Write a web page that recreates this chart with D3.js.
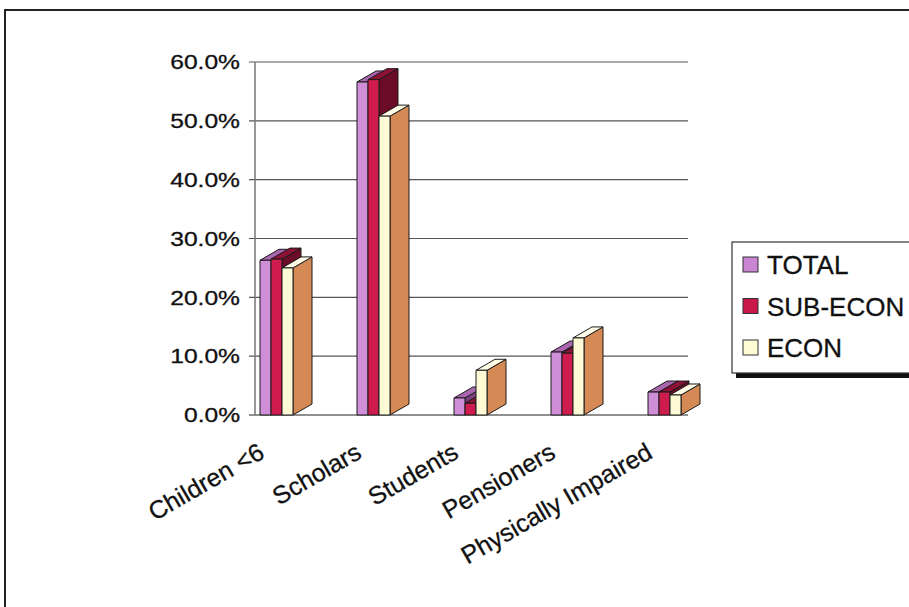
<!DOCTYPE html>
<html>
<head>
<meta charset="utf-8">
<script src="https://cdn.jsdelivr.net/npm/d3@7"></script>
<style>
  html, body { margin: 0; padding: 0; background: #fff; }
  svg { display: block; }
  text { font-family: "Liberation Sans", Arial, sans-serif; fill: #111; }
</style>
</head>
<body>
<svg id="chart" width="909" height="607"></svg>
<script>
// Population groups and their shares (%) by economic status
const categories = ["Children <6", "Scholars", "Students", "Pensioners", "Physically Impaired"];
const seriesNames = ["TOTAL", "SUB-ECON", "ECON"];
const totalValues = [26.3, 56.6, 2.9, 10.7, 3.9];
const subEconValues = [26.5, 57.0, 2.0, 10.5, 3.9];
const econValues = [25.0, 50.8, 7.6, 13.1, 3.4];
const yTicks = [0, 10, 20, 30, 40, 50, 60];

const seriesValues = [totalValues, subEconValues, econValues];
const frontColors = ["#d08ed8", "#cf1c4e", "#fffad6"];
const topColors   = ["#a965ae", "#8c1236", "#fffce8"];
const sideColors  = ["#7b3f80", "#6a0c28", "#d58a55"];
const swatchColors = ["#c985d2", "#c8184a", "#fffbd5"];

const svg = d3.select("#chart");

// outer chart frame
svg.append("path")
  .attr("d", "M5,607 V10 H909")
  .attr("fill", "none")
  .attr("stroke", "#222")
  .attr("stroke-width", 2);

const y = d3.scaleLinear().domain([0, 60]).range([415, 62]);
const x0 = d3.scaleBand().domain(categories).range([254, 739]);
const x1 = d3.scaleBand().domain(seriesNames).range([6, 39]);
const DX = 19, DY = -11; // oblique depth of the 3-D columns
const axisX = 255, gridEnd = 688;

// gridlines
svg.append("g").selectAll("line")
  .data(yTicks)
  .join("line")
  .attr("x1", axisX - 6).attr("x2", gridEnd)
  .attr("y1", d => y(d)).attr("y2", d => y(d))
  .attr("stroke", d => d === 0 ? "#222" : "#555")
  .attr("stroke-width", 1.2);

// value axis
svg.append("line")
  .attr("x1", axisX).attr("x2", axisX)
  .attr("y1", y(60)).attr("y2", y(0))
  .attr("stroke", "#777").attr("stroke-width", 1.5);

svg.append("g").selectAll("text")
  .data(yTicks)
  .join("text")
  .attr("transform", d => `translate(240,${y(d)}) scale(1.23,1)`)
  .attr("dy", "0.36em")
  .attr("text-anchor", "end")
  .attr("font-size", 20)
  .attr("stroke", "#111").attr("stroke-width", 0.3)
  .text(d => d.toFixed(1) + "%");

// 3-D columns, drawn left to right so each column hides its neighbour's side
const bars = svg.append("g").attr("stroke", "#1a1a1a").attr("stroke-width", 1).attr("stroke-linejoin", "round");
categories.forEach((cat, ci) => {
  seriesNames.forEach((s, si) => {
    const v = seriesValues[si][ci];
    const x = x0(cat) + x1(s);
    const w = x1.bandwidth();
    const yt = y(v), yb = y(0);
    const g = bars.append("g");
    g.append("polygon")
      .attr("points", [[x + w, yt], [x + w + DX, yt + DY], [x + w + DX, yb + DY], [x + w, yb]].join(" "))
      .attr("fill", sideColors[si]);
    g.append("polygon")
      .attr("points", [[x, yt], [x + w, yt], [x + w + DX, yt + DY], [x + DX, yt + DY]].join(" "))
      .attr("fill", topColors[si]);
    g.append("rect")
      .attr("x", x).attr("y", yt)
      .attr("width", w).attr("height", yb - yt)
      .attr("fill", frontColors[si]);
  });
});

// category labels
svg.append("g").selectAll("text")
  .data(categories)
  .join("text")
  .attr("transform", d => `translate(${x0(d) + 12},457) rotate(-30)`)
  .attr("text-anchor", "end")
  .attr("font-size", 25)
  .attr("stroke", "#111").attr("stroke-width", 0.3)
  .text(d => d);

// legend
const legend = svg.append("g");
legend.append("rect")
  .attr("x", 736).attr("y", 372).attr("width", 200).attr("height", 6)
  .attr("fill", "#111");
legend.append("rect")
  .attr("x", 732).attr("y", 242).attr("width", 200).attr("height", 131)
  .attr("fill", "#fff").attr("stroke", "#333").attr("stroke-width", 1.2);
const items = legend.selectAll("g.item")
  .data(seriesNames)
  .join("g")
  .attr("class", "item")
  .attr("transform", (d, i) => `translate(743,${265 + i * 41.5})`);
items.append("rect")
  .attr("x", 0).attr("y", -8).attr("width", 15).attr("height", 15)
  .attr("fill", (d, i) => swatchColors[i])
  .attr("stroke", "#333").attr("stroke-width", 1);
items.append("text")
  .attr("x", 24).attr("dy", "0.36em")
  .attr("font-size", 26)
  .attr("stroke", "#111").attr("stroke-width", 0.3)
  .text(d => d);
</script>
</body>
</html>
